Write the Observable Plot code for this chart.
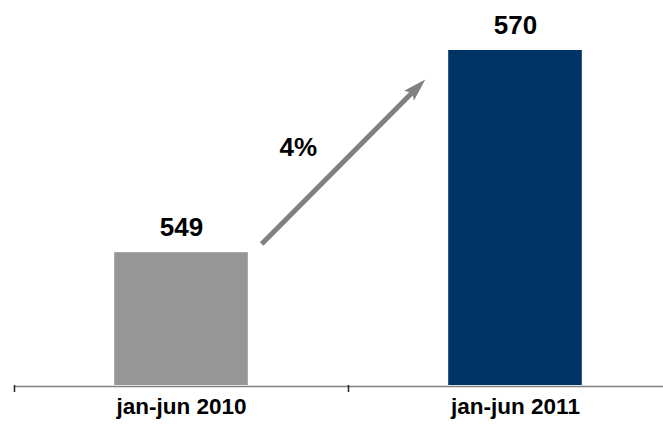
<!DOCTYPE html>
<html>
<head>
<meta charset="utf-8">
<script src="https://cdn.jsdelivr.net/npm/d3@7"></script>
<script src="https://cdn.jsdelivr.net/npm/@observablehq/plot@0.6"></script>
<style>
  html, body { margin: 0; padding: 0; background: #fff; }
  svg { display: block; }
</style>
</head>
<body>
<div id="chart"></div>
<script>
const categories = ["jan-jun 2010", "jan-jun 2011"];
const values = [549, 570];
const barColors = ["#969696", "#003366"];
const changeLabel = ["4%"];
// annotation arrow (x in band units, y in data units)
const arrowX = [0.74, 1.23];
const arrowY = [549.9, 567];
const changeLabelPos = [0.85, 559.9];

const base = 535.2;
const data = categories.map((c, i) => ({ cat: c, i, value: values[i], color: barColors[i] }));
const font = "Liberation Sans, Arial, Helvetica, sans-serif";

// arrowhead symbol: tip at origin, pointing up
const headSymbol = {
  draw(context, size) {
    const k = Math.sqrt(size / Math.PI) / 10;
    const L = 23 * k, w = 7 * k;
    context.moveTo(0, 0);
    context.lineTo(w, L);
    context.lineTo(0, L * 0.82);
    context.lineTo(-w, L);
    context.closePath();
  }
};

const chart = Plot.plot({
  width: 663,
  height: 433,
  marginLeft: 14,
  marginRight: 0,
  marginTop: 50,
  marginBottom: 48,
  style: { fontFamily: font, background: "#fff" },
  x: { type: "linear", domain: [0, categories.length], range: [14, 682], axis: null },
  y: { domain: [base, 570], axis: null },
  color: { type: "identity" },
  marks: [
    Plot.rect(data, { x1: d => d.i + 0.3, x2: d => d.i + 0.7, y1: base, y2: "value", fill: "color" }),
    Plot.ruleY([base], { stroke: "#808080", strokeWidth: 1.5, dy: 1 }),
    Plot.axisX({ ticks: d3.range(categories.length + 1), tickSize: 7, tickFormat: () => "", stroke: "#222", strokeWidth: 1.5 }),
    Plot.text(data, { x: d => d.i + 0.5, frameAnchor: "bottom", dy: 28, text: "cat", fontSize: 22.5, fontWeight: "bold", fill: "#000" }),
    Plot.text(data, { x: d => d.i + 0.5, y: "value", dy: -25, text: d => String(d.value), fontSize: 26, fontWeight: "bold", fill: "#000" }),
    Plot.arrow([{ x1: arrowX[0], y1: arrowY[0], x2: arrowX[1], y2: arrowY[1] }], {
      x1: "x1", y1: "y1", x2: "x2", y2: "y2", stroke: "#808080", strokeWidth: 5,
      headLength: 0, insetEnd: 16, strokeLinecap: "butt"
    }),
    Plot.dot([{ x: arrowX[1], y: arrowY[1] }], {
      x: "x", y: "y", r: 10, symbol: headSymbol, rotate: 45, fill: "#808080", stroke: "none"
    }),
    Plot.text(changeLabel, { x: changeLabelPos[0], y: changeLabelPos[1], text: d => d, fontSize: 26, fontWeight: "bold", fill: "#000" })
  ]
});
document.getElementById("chart").appendChild(chart);
</script>
</body>
</html>
